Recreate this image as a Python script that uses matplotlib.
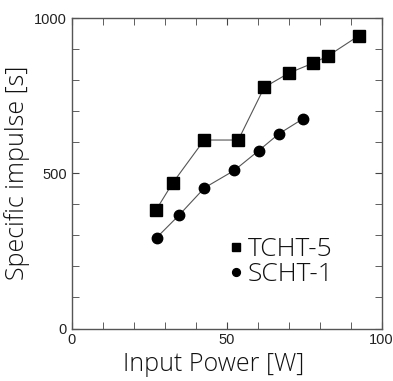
import matplotlib.pyplot as plt

plt.rcParams['font.family'] = ['Open Sans', 'DejaVu Sans']

tcht_power = [27.3, 32.6, 42.8, 53.8, 62.2, 70.2, 78.0, 82.6, 92.7]
tcht_isp = [382, 468, 607, 607, 777, 823, 855, 877, 943]
scht_power = [27.5, 34.7, 42.9, 52.5, 60.4, 66.9, 74.6]
scht_isp = [293, 365, 453, 509, 573, 627, 675]

fig = plt.figure(figsize=(3.93, 3.81), dpi=100)
ax = fig.add_axes([71.5 / 393, 1 - 328.5 / 381, 310 / 393, 310.5 / 381])

ax.plot(tcht_power, tcht_isp, color='#555555', lw=0.8, marker='s', ms=8,
        mfc='black', mec='black', label='TCHT-5')
ax.plot(scht_power, scht_isp, color='#555555', lw=0.8, marker='o', ms=7.5,
        mfc='black', mec='black', label='SCHT-1')

ax.set_xlim(0, 100)
ax.set_ylim(0, 1000)
ax.set_xticks([0, 50, 100])
ax.set_yticks([0, 500, 1000])
ax.set_xticks(range(0, 101, 10), minor=True)
ax.set_yticks(range(0, 1001, 100), minor=True)
ax.tick_params(which='both', direction='in', top=True, right=True,
               color='#444444', labelsize=10.5, labelcolor='#222222')
ax.tick_params(which='major', length=5)
ax.tick_params(which='minor', length=5)
for lab in ax.get_xticklabels() + ax.get_yticklabels():
    lab.set_family('Liberation Sans')
for s in ax.spines.values():
    s.set_color('#555555')
    s.set_linewidth(1.0)

ax.set_xlabel('Input Power [W]', fontsize=18, fontweight='light',
              color='#111111')
ax.set_ylabel('Specific impulse [s]', fontsize=18, fontweight='light',
              color='#111111', labelpad=3)
# the x label sits a little left of centre in the original
ax.xaxis.set_label_coords(0.458, -0.075)

leg = ax.legend(loc='upper left', bbox_to_anchor=(0.51, 0.295), frameon=False,
                prop={'size': 19, 'weight': 'light'}, handlelength=0.5,
                handletextpad=0.2, labelspacing=0.0, markerscale=0.75,
                borderpad=0, borderaxespad=0, labelcolor='#111111')
for line in leg.get_lines():
    line.set_linestyle('none')

fig.savefig('out.png', dpi=100)
